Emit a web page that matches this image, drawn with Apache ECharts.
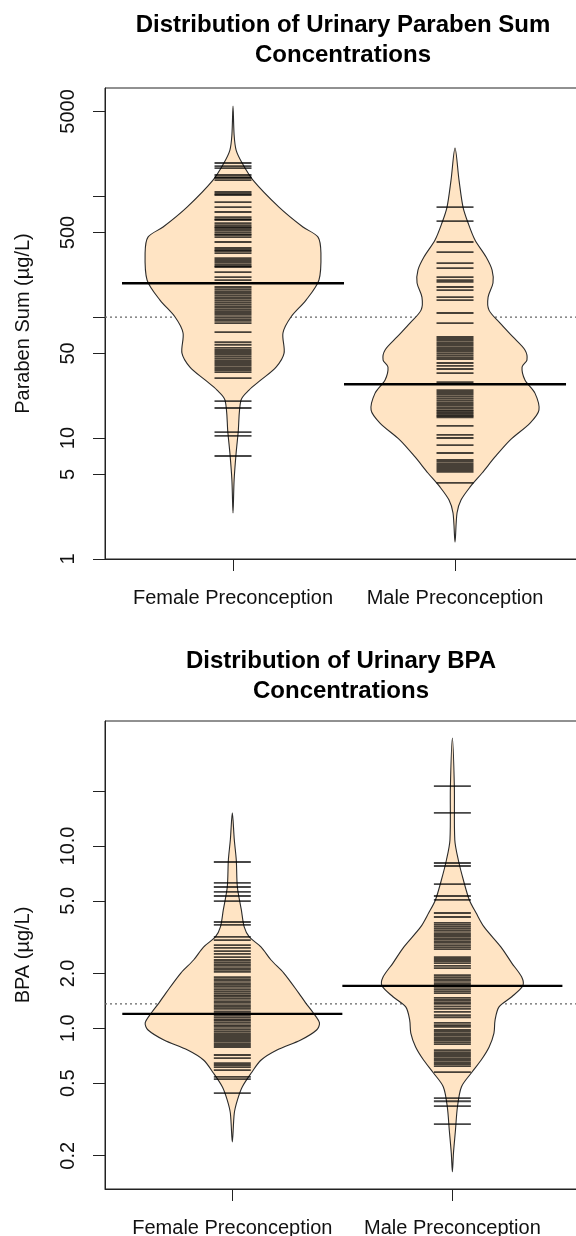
<!DOCTYPE html>
<html lang="en">
<head>
  <meta charset="utf-8">
</head>
<body style="margin: 0; background: #fff">
  <div id="container" style="width: 576px; height: 1236px"></div>

  <script type="text/javascript" src="https://cdn.jsdelivr.net/npm/echarts@6/dist/echarts.min.js"></script>

  <script type="text/javascript">
    var groups = ['Female Preconception', 'Male Preconception'];

    // Paraben sum (ug/L)
    var parabenTicks = [1, 5, 10, 50, 100, 500, 1000, 5000];
    var parabenLabels = [1, 5, 10, 50, 500, 5000];
    var parabenFemale = [1875, 1770, 1703, 1492, 1435, 1409, 1355, 1080, 1040, 1019, 891, 811, 738, 670, 645, 634,
      598, 576, 555, 544, 524, 504, 485, 476, 458, 417, 372, 358, 351, 338, 307, 296, 285, 274, 264, 259, 235, 214,
      202, 177, 170, 164, 158, 152, 146, 141, 136, 131, 126, 121, 116, 112, 108, 104, 100, 96, 93, 89, 75, 62, 59,
      55.5, 53.4, 51.4, 49.5, 47.6, 45.8, 44.1, 42.5, 40.9, 39.4, 37.9, 36.5, 35.1, 31.3, 20.2, 17.7, 11.2, 10.4, 7.1];
    var parabenMale = [811, 621, 417, 344, 279, 254, 214, 202, 195, 177, 167, 146, 138, 108, 89, 68.4, 65.8, 63.4,
      61.0, 58.7, 56.5, 54.4, 52.4, 50.4, 48.5, 46.7, 45.0, 41.7, 39.4, 37.2, 34.4, 29.0, 24.9, 24.0, 23.1, 22.2,
      21.4, 20.6, 19.8, 19.1, 18.4, 17.7, 17.0, 16.6, 16.1, 15.6, 15.2, 14.8, 12.6, 10.6, 10.0, 8.75, 7.52, 6.58,
      6.34, 6.10, 5.87, 5.65, 5.44, 5.24, 4.25];
    // bean outline: [value, density half-width in group units]
    var parabenFemaleBean = [[5546, 0], [3192, 0.005], [2399, 0.014], [1875, 0.041], [1355, 0.09], [811, 0.207],
      [555, 0.315], [458, 0.383], [338, 0.396], [202, 0.387], [138, 0.329], [100, 0.261], [73.8, 0.225],
      [50.4, 0.23], [38.6, 0.194], [30.2, 0.126], [24.9, 0.072], [20.6, 0.036], [11.0, 0.023], [7.5, 0.014],
      [4.5, 0.005], [2.4, 0]];
    var parabenMaleBean = [[2494, 0], [1355, 0.018], [811, 0.036], [598, 0.059], [433, 0.09], [313, 0.14],
      [244, 0.167], [191, 0.171], [146, 0.149], [114, 0.153], [89, 0.203], [68.4, 0.261], [53.4, 0.315],
      [44.1, 0.324], [38.6, 0.302], [30.2, 0.315], [23.5, 0.36], [17.0, 0.378], [13.3, 0.338], [9.62, 0.248],
      [6.97, 0.18], [5.14, 0.122], [3.94, 0.068], [3.07, 0.027], [2.40, 0.009], [1.38, 0]];
    var parabenMedian = [190, 27.8];
    var parabenOverall = 100;

    // BPA (ug/L)
    var bpaTicks = [0.2, 0.5, 1, 2, 5, 10, 20];
    var bpaLabels = [0.2, 0.5, 1, 2, 5, 10];
    var bpaFemale = [8.17, 6.27, 5.96, 5.60, 5.32, 4.99, 3.83, 3.69, 3.17, 3.05, 2.86, 2.76, 2.65, 2.56, 2.46, 2.37,
      2.31, 2.25, 2.20, 2.14, 2.09, 2.04, 1.91, 1.86, 1.82, 1.77, 1.73, 1.69, 1.64, 1.60, 1.56, 1.52, 1.49, 1.45,
      1.41, 1.38, 1.34, 1.31, 1.28, 1.24, 1.21, 1.18, 1.15, 1.12, 1.10, 1.07, 1.04, 1.02, 0.99, 0.966, 0.942, 0.919,
      0.896, 0.874, 0.852, 0.830, 0.810, 0.790, 0.714, 0.687, 0.645, 0.629, 0.613, 0.590, 0.541, 0.527, 0.441];
    var bpaMale = [21.3, 15.2, 8.07, 7.77, 6.18, 5.32, 5.06, 4.29, 4.08, 3.79, 3.69, 3.60, 3.51, 3.42, 3.33, 3.25,
      3.17, 3.09, 3.01, 2.94, 2.86, 2.79, 2.72, 2.46, 2.40, 2.34, 2.28, 2.20, 2.14, 1.96, 1.91, 1.86, 1.82, 1.77,
      1.73, 1.69, 1.64, 1.60, 1.56, 1.47, 1.43, 1.39, 1.36, 1.32, 1.28, 1.23, 1.18, 1.15, 1.07, 1.04, 1.02, 0.979,
      0.955, 0.931, 0.908, 0.885, 0.863, 0.841, 0.820, 0.760, 0.741, 0.723, 0.705, 0.687, 0.670, 0.653, 0.637,
      0.621, 0.575, 0.414, 0.398, 0.374, 0.298];
    var bpaFemaleBean = [[15.2, 0], [10.8, 0.009], [8.38, 0.018], [5.96, 0.023], [4.46, 0.041], [3.60, 0.054],
      [3.17, 0.077], [2.79, 0.131], [2.37, 0.176], [2.01, 0.234], [1.56, 0.302], [1.38, 0.333], [1.21, 0.369],
      [1.07, 0.396], [0.979, 0.383], [0.863, 0.311], [0.760, 0.203], [0.670, 0.131], [0.569, 0.086],
      [0.477, 0.045], [0.404, 0.023], [0.343, 0.009], [0.238, 0]];
    var bpaMaleBean = [[39.1, 0], [21.1, 0.009], [10.8, 0.011], [8.38, 0.027], [6.51, 0.05], [5.06, 0.077],
      [4.29, 0.108], [3.60, 0.144], [2.79, 0.221], [2.28, 0.27], [1.91, 0.315], [1.71, 0.32], [1.49, 0.27],
      [1.31, 0.212], [1.11, 0.194], [0.942, 0.189], [0.790, 0.167], [0.670, 0.131], [0.569, 0.086],
      [0.477, 0.041], [0.370, 0.023], [0.276, 0.014], [0.207, 0.005], [0.163, 0]];
    var bpaMedian = [1.2, 1.71];
    var bpaOverall = 1.36;

    var font = 'Liberation Sans, Arial, Helvetica, sans-serif';
    var lg = Math.log10;

    var dom = document.getElementById('container');
    var myChart = echarts.init(dom, null, { renderer: 'canvas' });

    function nearestLabel(v, list, fmt) {
      var best = list[0];
      list.forEach(function (t) {
        if (Math.abs(lg(t) - v) < Math.abs(lg(best) - v)) best = t;
      });
      return fmt(best);
    }

    function panel(i, cfg) {
      var xAxis = {
        gridIndex: i, type: 'value', min: cfg.xMin, max: cfg.xMax,
        splitLine: { show: false },
        axisLine: { show: true, onZero: false, lineStyle: { color: '#222', width: 1 } },
        axisTick: { show: true, customValues: [1, 2], length: 12, lineStyle: { color: '#222', width: 1 } },
        axisLabel: {
          customValues: [1, 2], margin: 29, fontSize: 20, fontFamily: font, color: '#111',
          formatter: function (v) { return groups[Math.round(v) - 1]; }
        }
      };
      var yAxis = {
        gridIndex: i, type: 'value', min: lg(cfg.yMin), max: lg(cfg.yMax),
        splitLine: { show: false },
        axisLine: { show: true, onZero: false, lineStyle: { color: '#222', width: 1 } },
        axisTick: { show: true, customValues: cfg.ticks.map(lg), length: 12, lineStyle: { color: '#222', width: 1 } },
        axisLabel: {
          customValues: cfg.labels.map(lg), rotate: 90, margin: 27, fontSize: 20, fontFamily: font, color: '#111',
          formatter: function (v) { return nearestLabel(v, cfg.labels, cfg.fmt); }
        },
        name: cfg.yName, nameLocation: 'middle', nameGap: 72,
        nameTextStyle: { fontSize: 20, fontFamily: font, color: '#111' }
      };
      var beans = [cfg.femaleBean, cfg.maleBean];
      var obs = [cfg.female, cfg.male];
      var series = [
        {
          type: 'line', xAxisIndex: i, yAxisIndex: i, z: 1, symbol: 'none', silent: true,
          data: [[cfg.xMin, lg(cfg.overall)], [cfg.xMax, lg(cfg.overall)]],
          lineStyle: { type: [2, 3], color: '#666', width: 1.3 }
        },
        {
          type: 'custom', xAxisIndex: i, yAxisIndex: i, z: 2, silent: true,
          data: [[1, 0], [2, 1]],
          renderItem: function (params, api) {
            var pos = api.value(0);
            var outline = beans[api.value(1)];
            var left = outline.map(function (p) { return api.coord([pos - p[1], lg(p[0])]); });
            var right = outline.slice(1, -1).reverse().map(function (p) { return api.coord([pos + p[1], lg(p[0])]); });
            return {
              type: 'polygon',
              shape: { points: left.concat(right), smooth: 0.3 },
              style: { fill: '#FFE4C4', stroke: '#2a2a2a', lineWidth: 1.1 }
            };
          }
        }
      ];
      obs.forEach(function (list, g) {
        series.push({
          type: 'scatter', xAxisIndex: i, yAxisIndex: i, z: 3, silent: true,
          symbol: 'rect', symbolSize: [37, 1.8],
          itemStyle: { color: 'rgba(0,0,0,0.9)' },
          data: list.map(function (v) { return [g + 1, lg(v)]; })
        });
      });
      series.push({
        type: 'custom', xAxisIndex: i, yAxisIndex: i, z: 4, silent: true,
        data: cfg.median.map(function (m, g) { return [g + 1, lg(m)]; }),
        renderItem: function (params, api) {
          var a = api.coord([api.value(0) - 0.5, api.value(1)]);
          var b = api.coord([api.value(0) + 0.5, api.value(1)]);
          return {
            type: 'line',
            shape: { x1: a[0], y1: a[1], x2: b[0], y2: b[1] },
            style: { stroke: '#000', lineWidth: 2.4 }
          };
        }
      });
      return { xAxis: xAxis, yAxis: yAxis, series: series };
    }

    // plot box runs past the right edge of the page, as in the original figure
    var parabenPanel = panel(0, {
      xMin: 0.4234, xMax: 2.608, yMin: 1, yMax: 7816,
      ticks: parabenTicks, labels: parabenLabels, fmt: function (t) { return String(t); },
      yName: 'Paraben Sum (\u00b5g/L)',
      female: parabenFemale, male: parabenMale,
      femaleBean: parabenFemaleBean, maleBean: parabenMaleBean,
      median: parabenMedian, overall: parabenOverall
    });
    var bpaPanel = panel(1, {
      xMin: 0.4214, xMax: 2.6254, yMin: 0.1314, yMax: 48.5,
      ticks: bpaTicks, labels: bpaLabels, fmt: function (t) { return t.toFixed(1); },
      yName: 'BPA (\u00b5g/L)',
      female: bpaFemale, male: bpaMale,
      femaleBean: bpaFemaleBean, maleBean: bpaMaleBean,
      median: bpaMedian, overall: bpaOverall
    });

    var titleStyle = { fontSize: 24, fontWeight: 'bold', lineHeight: 30, fontFamily: font, color: '#000' };

    var option = {
      animation: false,
      backgroundColor: '#fff',
      title: [
        { text: 'Distribution of Urinary Paraben Sum\nConcentrations', left: 343, top: 10, padding: 0,
          textAlign: 'center', textStyle: titleStyle },
        { text: 'Distribution of Urinary BPA\nConcentrations', left: 341, top: 646, padding: 0,
          textAlign: 'center', textStyle: titleStyle }
      ],
      grid: [
        { left: 105, top: 88, width: 485, height: 471, show: true, borderColor: '#222', borderWidth: 1,
          outerBoundsMode: 'none', containLabel: false },
        { left: 105, top: 721, width: 485, height: 468, show: true, borderColor: '#222', borderWidth: 1,
          outerBoundsMode: 'none', containLabel: false }
      ],
      xAxis: [parabenPanel.xAxis, bpaPanel.xAxis],
      yAxis: [parabenPanel.yAxis, bpaPanel.yAxis],
      series: parabenPanel.series.concat(bpaPanel.series)
    };

    myChart.setOption(option);

    window.addEventListener('resize', myChart.resize);
  </script>
</body>
</html>
